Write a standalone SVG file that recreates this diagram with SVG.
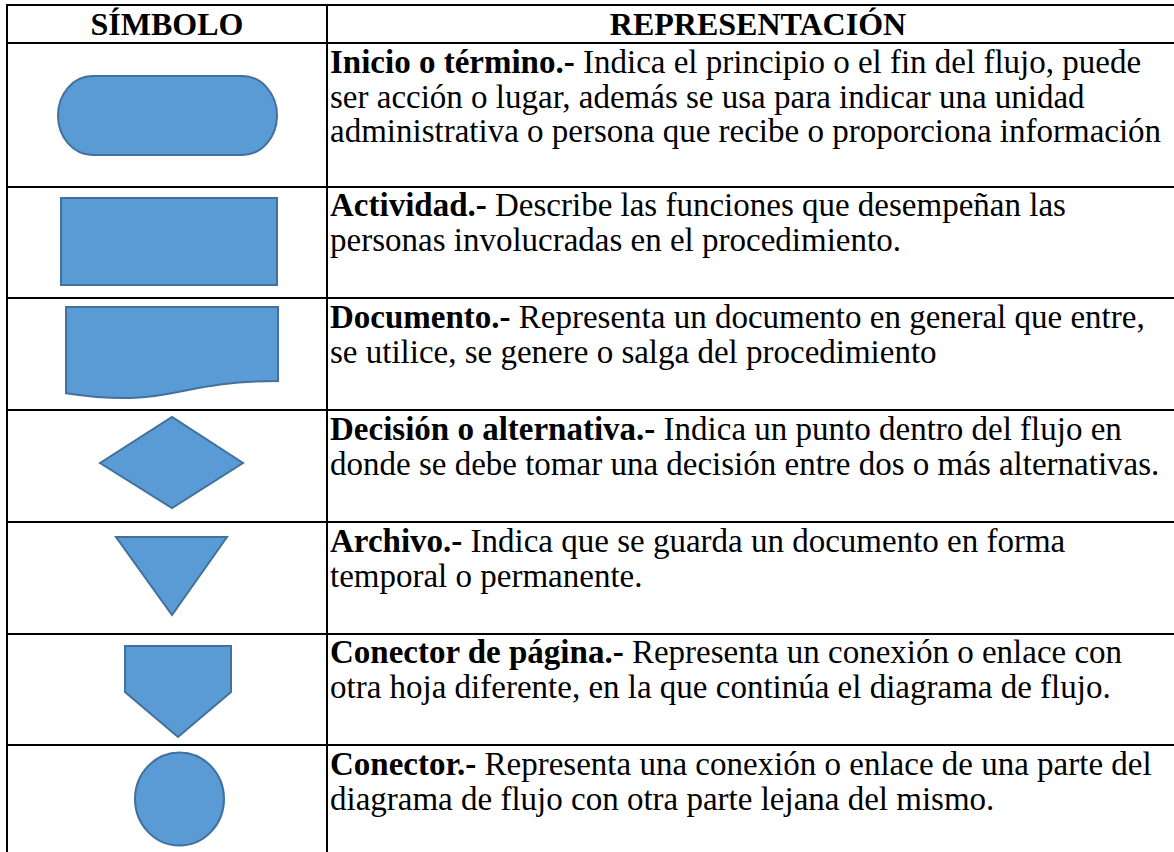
<svg xmlns="http://www.w3.org/2000/svg" width="1174" height="852" viewBox="0 0 1174 852">
<style>
.grid{stroke:#000;stroke-width:2;fill:none}
.shape{fill:#5B9BD5;stroke:#41719C;stroke-width:2}
.hd{font-family:"Liberation Serif",serif;font-weight:bold;font-size:32px;fill:#000}
.b{font-weight:bold}
</style>
<rect width="1174" height="852" fill="#fff"/>
<g id="table-grid">
<line class="grid" x1="7" y1="5" x2="1174" y2="5"/>
<line class="grid" x1="7" y1="43" x2="1174" y2="43"/>
<line class="grid" x1="7" y1="187" x2="1174" y2="187"/>
<line class="grid" x1="7" y1="298" x2="1174" y2="298"/>
<line class="grid" x1="7" y1="410" x2="1174" y2="410"/>
<line class="grid" x1="7" y1="522" x2="1174" y2="522"/>
<line class="grid" x1="7" y1="634" x2="1174" y2="634"/>
<line class="grid" x1="7" y1="745" x2="1174" y2="745"/>
<line class="grid" x1="7" y1="4" x2="7" y2="852"/>
<line class="grid" x1="327" y1="4" x2="327" y2="852"/>
</g>
<g id="header">
<text class="hd" x="167" y="35" text-anchor="middle">SÍMBOLO</text>
<text class="hd" x="758" y="35" text-anchor="middle">REPRESENTACIÓN</text>
</g>
<g id="row-inicio">
<rect class="shape" x="58" y="76" width="219" height="79" rx="34.5" ry="39.5"/>
<g font-family="Liberation Serif, serif" font-size="33">
<text x="330" y="73"><tspan class="b">Inicio o término.-</tspan> Indica el principio o el fin del flujo, puede</text>
<text x="330" y="107.5">ser acción o lugar, además se usa para indicar una unidad</text>
<text x="330" y="142">administrativa o persona que recibe o proporciona información</text>
</g>
</g>
<g id="row-actividad">
<rect class="shape" x="61" y="198" width="216" height="87"/>
<g font-family="Liberation Serif, serif" font-size="33">
<text x="330" y="216"><tspan class="b">Actividad.-</tspan> Describe las funciones que desempeñan las</text>
<text x="330" y="251">personas involucradas en el procedimiento.</text>
</g>
</g>
<g id="row-documento">
<path class="shape" d="M66,307 H278 V381 C172,381 172,409.2 66,393.2 Z"/>
<g font-family="Liberation Serif, serif" font-size="33">
<text x="330" y="328"><tspan class="b">Documento.-</tspan> Representa un documento en general que entre,</text>
<text x="330" y="363">se utilice, se genere o salga del procedimiento</text>
</g>
</g>
<g id="row-decision">
<polygon class="shape" points="100,463 172,417 243,463 172,508"/>
<g font-family="Liberation Serif, serif" font-size="33">
<text x="330" y="440"><tspan class="b">Decisión o alternativa.-</tspan> Indica un punto dentro del flujo en</text>
<text x="330" y="475">donde se debe tomar una decisión entre dos o más alternativas.</text>
</g>
</g>
<g id="row-archivo">
<polygon class="shape" points="116,537 227,537 172,615"/>
<g font-family="Liberation Serif, serif" font-size="33">
<text x="330" y="551.5"><tspan class="b">Archivo.-</tspan> Indica que se guarda un documento en forma</text>
<text x="330" y="586.5">temporal o permanente.</text>
</g>
</g>
<g id="row-conector-pagina">
<polygon class="shape" points="125,646 231,646 231,692 178,737 125,692"/>
<g font-family="Liberation Serif, serif" font-size="33">
<text x="330" y="662.5"><tspan class="b">Conector de página.-</tspan> Representa un conexión o enlace con</text>
<text x="330" y="697.5">otra hoja diferente, en la que continúa el diagrama de flujo.</text>
</g>
</g>
<g id="row-conector">
<ellipse class="shape" cx="179.5" cy="799" rx="44.5" ry="46.5"/>
<g font-family="Liberation Serif, serif" font-size="33">
<text x="330" y="774.5"><tspan class="b">Conector.-</tspan> Representa una conexión o enlace de una parte del</text>
<text x="330" y="809.5">diagrama de flujo con otra parte lejana del mismo.</text>
</g>
</g>
</svg>
